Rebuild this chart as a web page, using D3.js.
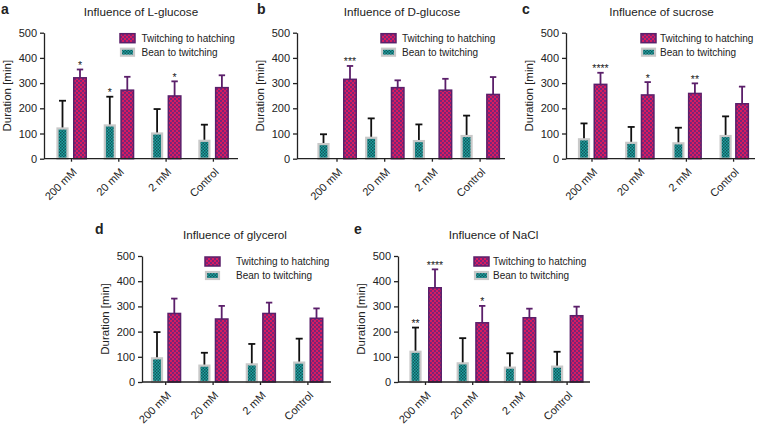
<!DOCTYPE html>
<html><head><meta charset="utf-8">
<script src="https://cdn.jsdelivr.net/npm/d3@7"></script>
<style>
html,body{margin:0;padding:0;background:#fff;}
text{font-family:"Liberation Sans",Arial,Helvetica,sans-serif;fill:#222;}
</style></head>
<body><svg id="chart" width="759" height="426"></svg>
<script>
// ---------- data ----------
const categories = ["200 mM", "20 mM", "2 mM", "Control"];
const yTicks = [0, 100, 200, 300, 400, 500];
const seriesNames = ["Twitching to hatching", "Bean to twitching"];
const panelLetters = ["a", "b", "c", "d", "e"];
const panelTitles = ["Influence of L-glucose", "Influence of D-glucose", "Influence of sucrose", "Influence of glycerol", "Influence of NaCl"];

// a: L-glucose
const lGlucoseBean = [120, 132, 100, 71];
const lGlucoseBeanSd = [110, 114, 97, 64];
const lGlucoseHatch = [321, 272, 249, 282];
const lGlucoseHatchSd = [33, 53, 58, 49];
const lGlucoseBeanStars = ["", "*", "", ""];
const lGlucoseHatchStars = ["*", "", "*", ""];
// b: D-glucose
const dGlucoseBean = [58, 83, 70, 90];
const dGlucoseBeanSd = [39, 77, 66, 81];
const dGlucoseHatch = [315, 282, 272, 255];
const dGlucoseHatchSd = [53, 29, 45, 69];
const dGlucoseBeanStars = ["", "", "", ""];
const dGlucoseHatchStars = ["***", "", "", ""];
// c: sucrose
const sucroseBean = [77, 63, 61, 90];
const sucroseBeanSd = [63, 63, 62, 78];
const sucroseHatch = [295, 253, 259, 218];
const sucroseHatchSd = [46, 51, 40, 68];
const sucroseBeanStars = ["", "", "", ""];
const sucroseHatchStars = ["****", "*", "**", ""];
// d: glycerol
const glycerolBean = [94, 65, 70, 77];
const glycerolBeanSd = [104, 51, 81, 95];
const glycerolHatch = [272, 250, 272, 253];
const glycerolHatchSd = [59, 52, 43, 39];
const glycerolBeanStars = ["", "", "", ""];
const glycerolHatchStars = ["", "", "", ""];
// e: NaCl
const naclBean = [120, 74, 57, 61];
const naclBeanSd = [96, 100, 57, 59];
const naclHatch = [374, 235, 255, 263];
const naclHatchSd = [73, 67, 36, 36];
const naclBeanStars = ["**", "", "", ""];
const naclHatchStars = ["****", "*", "", ""];

const panelData = [
  {bean: lGlucoseBean, beanSd: lGlucoseBeanSd, hatch: lGlucoseHatch, hatchSd: lGlucoseHatchSd, beanStars: lGlucoseBeanStars, hatchStars: lGlucoseHatchStars},
  {bean: dGlucoseBean, beanSd: dGlucoseBeanSd, hatch: dGlucoseHatch, hatchSd: dGlucoseHatchSd, beanStars: dGlucoseBeanStars, hatchStars: dGlucoseHatchStars},
  {bean: sucroseBean, beanSd: sucroseBeanSd, hatch: sucroseHatch, hatchSd: sucroseHatchSd, beanStars: sucroseBeanStars, hatchStars: sucroseHatchStars},
  {bean: glycerolBean, beanSd: glycerolBeanSd, hatch: glycerolHatch, hatchSd: glycerolHatchSd, beanStars: glycerolBeanStars, hatchStars: glycerolHatchStars},
  {bean: naclBean, beanSd: naclBeanSd, hatch: naclHatch, hatchSd: naclHatchSd, beanStars: naclBeanStars, hatchStars: naclHatchStars}
];

// ---------- layout ----------
const layouts = [
  {x0: 44, xEnd: 238, first: 71.5, step: 47.3, tOff: -9, pOff: 8.5, y0: 158.7, yTop: 32.7, legX: 120, legTx: 141.5, titleX: 141, titleY: 16, letterX: 1, letterY: 14},
  {x0: 297, xEnd: 505, first: 337, step: 47.7, tOff: -13.5, pOff: 13, y0: 158.7, yTop: 32.7, legX: 381, legTx: 402, titleX: 402, titleY: 16, letterX: 257, letterY: 14},
  {x0: 566, xEnd: 755, first: 592, step: 47.2, tOff: -8, pOff: 8.5, y0: 158.7, yTop: 32.7, legX: 641, legTx: 660, titleX: 661.5, titleY: 16, letterX: 522, letterY: 14},
  {x0: 142, xEnd: 331, first: 165.7, step: 47.4, tOff: -8.7, pOff: 8.6, y0: 382, yTop: 256, legX: 205, legTx: 236, titleX: 235, titleY: 238.5, letterX: 95, letterY: 234},
  {x0: 398, xEnd: 590, first: 425.5, step: 47.2, tOff: -10, pOff: 9.5, y0: 382, yTop: 256, legX: 474, legTx: 493, titleX: 493.5, titleY: 238.5, letterX: 354, letterY: 234}
];

const svg = d3.select("#chart");
const defs = svg.append("defs");
const pinkPat = defs.append("pattern").attr("id", "pinkPat").attr("patternUnits", "userSpaceOnUse").attr("width", 4).attr("height", 4);
pinkPat.append("rect").attr("width", 4).attr("height", 4).attr("fill", "#d81b60");
pinkPat.append("rect").attr("x", 0).attr("y", 0).attr("width", 2).attr("height", 2).attr("fill", "#7a2478");
pinkPat.append("rect").attr("x", 2).attr("y", 2).attr("width", 2).attr("height", 2).attr("fill", "#7a2478");
const tealPat = defs.append("pattern").attr("id", "tealPat").attr("patternUnits", "userSpaceOnUse").attr("width", 3).attr("height", 3);
tealPat.append("rect").attr("width", 3).attr("height", 3).attr("fill", "#20a3a0");
tealPat.append("rect").attr("x", 0).attr("y", 0).attr("width", 1.5).attr("height", 1.5).attr("fill", "#10565c");
tealPat.append("rect").attr("x", 1.5).attr("y", 1.5).attr("width", 1.5).attr("height", 1.5).attr("fill", "#10565c");

const PURPLE = "#5b1f6a";
const GRAY = "#c9c9c9";
const tealW = 10, pinkW = 12.5;

panelData.forEach((d, i) => {
  const L = layouts[i];
  const g = svg.append("g");
  const x = d3.scaleBand().domain(categories)
    .range([L.first - L.step / 2, L.first + L.step * 3.5]).padding(0);
  const y = d3.scaleLinear().domain([0, 500]).range([L.y0, L.yTop]);
  const cx = c => x(c) + x.bandwidth() / 2;

  // panel letter & title
  g.append("text").attr("x", L.letterX).attr("y", L.letterY).attr("font-size", 14).attr("font-weight", "bold").attr("fill", "#000").text(panelLetters[i]);
  g.append("text").attr("x", L.titleX).attr("y", L.titleY).attr("text-anchor", "middle").attr("font-size", 11.7).text(panelTitles[i]);

  // bars: bean (teal)
  categories.forEach((c, k) => {
    const xc = cx(c) + L.tOff;
    const top = y(d.bean[k] + d.beanSd[k]);
    g.append("line").attr("x1", xc).attr("x2", xc).attr("y1", y(d.bean[k])).attr("y2", top).attr("stroke", "#111").attr("stroke-width", 1.8);
    g.append("line").attr("x1", xc - 3.5).attr("x2", xc + 3.5).attr("y1", top).attr("y2", top).attr("stroke", "#111").attr("stroke-width", 1.8);
    g.append("rect").attr("x", xc - tealW / 2).attr("y", y(d.bean[k])).attr("width", tealW).attr("height", y(0) - y(d.bean[k]))
      .attr("fill", "url(#tealPat)").attr("stroke", GRAY).attr("stroke-width", 2.2);
    if (d.beanStars[k]) g.append("text").attr("x", xc).attr("y", top - 0.5).attr("text-anchor", "middle").attr("font-size", 10.5).text(d.beanStars[k]);
  });
  categories.forEach((c, k) => {
    const xc = cx(c) + L.pOff;
    const top = y(d.hatch[k] + d.hatchSd[k]);
    g.append("line").attr("x1", xc).attr("x2", xc).attr("y1", y(d.hatch[k])).attr("y2", top).attr("stroke", PURPLE).attr("stroke-width", 1.8);
    g.append("line").attr("x1", xc - 3.2).attr("x2", xc + 3.2).attr("y1", top).attr("y2", top).attr("stroke", PURPLE).attr("stroke-width", 1.8);
    g.append("rect").attr("x", xc - pinkW / 2).attr("y", y(d.hatch[k])).attr("width", pinkW).attr("height", y(0) - y(d.hatch[k]))
      .attr("fill", "url(#pinkPat)").attr("stroke", PURPLE).attr("stroke-width", 1.5);
    if (d.hatchStars[k]) g.append("text").attr("x", xc).attr("y", top - 0.5).attr("text-anchor", "middle").attr("font-size", 10.5).text(d.hatchStars[k]);
  });

  // y axis
  const ya = g.append("g").attr("transform", `translate(${L.x0},0)`)
    .call(d3.axisLeft(y).tickValues(yTicks).tickSize(4).tickPadding(3).tickSizeOuter(0));
  ya.select(".domain").attr("stroke", "#222").attr("stroke-width", 1.3);
  ya.selectAll(".tick line").attr("stroke", "#222").attr("stroke-width", 1.3);
  ya.selectAll(".tick text").attr("font-size", 11).attr("font-family", "Liberation Sans, Arial, sans-serif").attr("fill", "#222");

  // x axis
  const xa = g.append("g").attr("transform", `translate(0,${L.y0})`)
    .call(d3.axisBottom(x).tickSize(3).tickSizeOuter(0));
  xa.select(".domain").attr("d", `M${L.x0},0H${L.xEnd}`).attr("stroke", "#222").attr("stroke-width", 1.3);
  xa.selectAll(".tick line").attr("stroke", "#222").attr("stroke-width", 1.3);
  xa.selectAll(".tick text").attr("font-size", 11).attr("font-family", "Liberation Sans, Arial, sans-serif").attr("fill", "#222")
    .attr("text-anchor", "end").attr("dy", null).attr("y", null)
    .attr("transform", "translate(6,14) rotate(-45)");

  // y label
  g.append("text").attr("transform", `translate(${L.x0 - 33},${(L.y0 + L.yTop) / 2}) rotate(-90)`)
    .attr("text-anchor", "middle").attr("font-size", 11.5).text("Duration [min]");

  // legend
  const ly = L.yTop;
  g.append("rect").attr("x", L.legX).attr("y", ly + 1).attr("width", 15).attr("height", 9)
    .attr("fill", "url(#pinkPat)").attr("stroke", PURPLE).attr("stroke-width", 1.5);
  g.append("text").attr("x", L.legTx).attr("y", ly + 9).attr("font-size", 10).text(seriesNames[0]);
  g.append("rect").attr("x", L.legX + 1).attr("y", ly + 16).attr("width", 13).attr("height", 7)
    .attr("fill", "url(#tealPat)").attr("stroke", GRAY).attr("stroke-width", 2.2);
  g.append("text").attr("x", L.legTx).attr("y", ly + 23).attr("font-size", 10).text(seriesNames[1]);
});
</script></body></html>
